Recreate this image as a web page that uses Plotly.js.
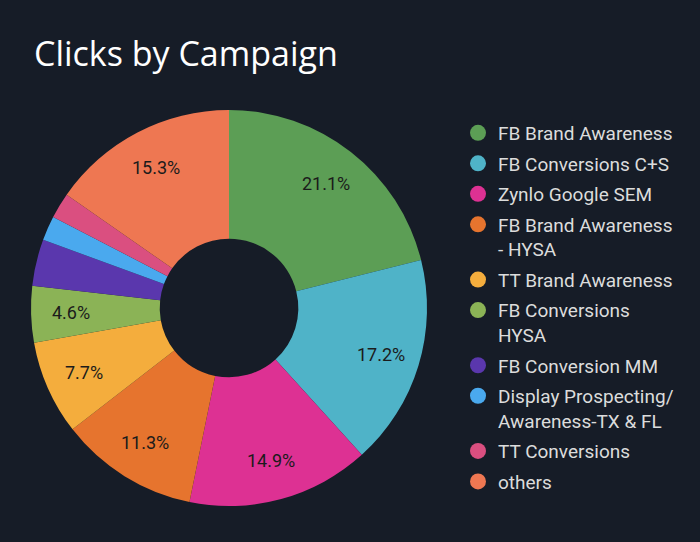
<!DOCTYPE html>
<html>
<head>
<meta charset="utf-8">
<script src="https://cdn.plot.ly/plotly-3.0.1.min.js"></script>
<style>
  html,body{margin:0;padding:0;background:#161c27;}
  #chart{width:700px;height:542px;}
</style>
</head>
<body>
<div id="chart"></div>
<script>
// campaigns in slice order (clockwise from 12 o'clock)
const CAMPAIGNS = [
  "FB Brand Awareness","FB Conversions C+S","Zynlo Google SEM",
  "FB Brand Awareness<br>- HYSA","TT Brand Awareness","FB Conversions<br>HYSA",
  "FB Conversion MM","Display Prospecting/<br>Awareness-TX & FL","TT Conversions","others"
];
const CLICK_SHARE = [21.1,17.2,14.9,11.3,7.7,4.6,3.8,2.0,2.1,15.3];
const COLORS = ['#5c9e55','#4fb3c8','#dd3193','#e6742e','#f4ad3d','#8bb356','#5a37ad','#4aa9ee','#da4f80','#ee7752'];

const BG = '#161c27';
const W = 700, H = 542;
const cx = 229, cy = 308, R = 198;

const pie = {
  type:'pie', values:CLICK_SHARE, labels:CAMPAIGNS,
  marker:{colors:COLORS, line:{width:0}},
  hole:0.35, sort:false, direction:'clockwise', rotation:0,
  textinfo:'none',
  domain:{x:[(cx-R)/W,(cx+R)/W], y:[(H-cy-R)/H,(H-cy+R)/H]},
  showlegend:false, hoverinfo:'label+percent'
};

// percent labels sit further out than plotly's inside text, so place them at slice mid-angles
const total = CLICK_SHARE.reduce((a,b)=>a+b,0);
let cum = 0;
const annotations = [];
CLICK_SHARE.forEach(v => {
  const mid = (cum + v/2) / total * 2*Math.PI;
  cum += v;
  if (v < 4) return;
  const r = 0.8*R;
  annotations.push({
    xref:'paper', yref:'paper', xanchor:'center', yanchor:'middle',
    x:(cx + r*Math.sin(mid))/W, y:(H - (cy - r*Math.cos(mid)))/H,
    text:(v/total*100).toFixed(1)+'%', showarrow:false,
    font:{family:'Roboto, sans-serif', size:18, color:'#1b1b1b'}
  });
});

// circle legend entries, one group each so the gap applies between every item
const legendTraces = CAMPAIGNS.map((c,i) => ({
  type:'scatter', mode:'markers', x:[null], y:[null], name:c,
  legendgroup:'g'+i,
  marker:{color:COLORS[i], size:16, symbol:'circle'},
  hoverinfo:'skip'
}));

Plotly.newPlot('chart',[pie,...legendTraces],{
  width:W, height:H,
  paper_bgcolor:BG, plot_bgcolor:BG,
  margin:{l:0,r:0,t:0,b:0},
  title:{text:'Clicks by Campaign', x:34/W, xanchor:'left', xref:'paper',
         y:1-54/H, yanchor:'middle', yref:'container',
         font:{family:'Open Sans, sans-serif', size:34, color:'#ffffff'}},
  xaxis:{visible:false, domain:[0.99,1]}, yaxis:{visible:false, domain:[0.99,1]},
  annotations,
  showlegend:true,
  legend:{x:458/W, xanchor:'left', y:1-114/H, yanchor:'top', valign:'top',
          font:{family:'Roboto, sans-serif', size:19, color:'#dcdcdc'},
          bgcolor:'rgba(0,0,0,0)', traceorder:'grouped', tracegroupgap:2.8,
          itemsizing:'trace'}
},{displayModeBar:false});
</script>
</body>
</html>
